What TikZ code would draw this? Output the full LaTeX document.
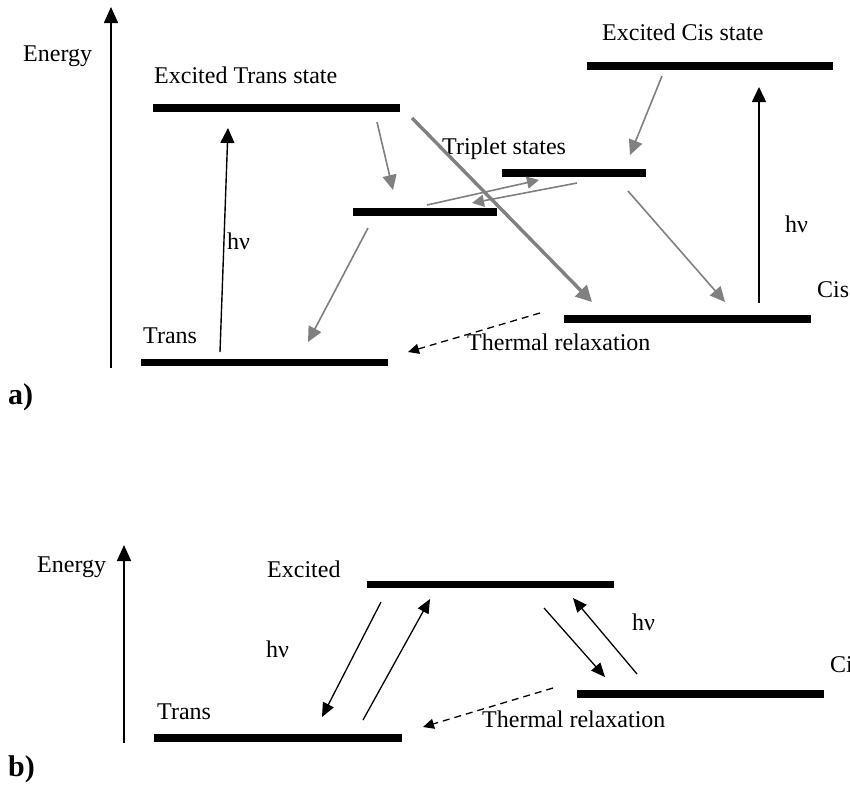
\documentclass[tikz,border=0pt]{standalone}
\usepackage{fontspec}
\newfontfamily\tnr{Liberation Serif}
\usetikzlibrary{arrows.meta}
\definecolor{arrgray}{HTML}{808080}
\tikzset{
  bar/.style={fill=black, draw=none, minimum height=7.5pt, inner sep=0pt, anchor=center},
  lbl/.style={anchor=base west, inner sep=0pt, font=\tnr\fontsize{24}{28}\selectfont},
  plbl/.style={anchor=base west, inner sep=0pt, font=\tnr\bfseries\fontsize{30}{34}\selectfont},
  axisarr/.style={line width=1.6pt, -{Triangle[length=16pt,width=14pt]}},
  blackarr/.style={line width=1.4pt, -{Triangle[length=15pt,width=14pt]}},
  blackarrb/.style={line width=1.3pt, -{Triangle[length=14pt,width=12pt]}},
  grayarr/.style={draw=arrgray, line width=1.6pt, -{Triangle[length=15pt,width=14pt]}},
  grayarrs/.style={draw=arrgray, line width=1.6pt, -{Triangle[length=12pt,width=12pt]}},
  graythick/.style={draw=arrgray, line width=3.4pt, -{Triangle[length=16pt,width=16pt]}},
  dasharr/.style={line width=1.3pt, dash pattern=on 7pt off 5pt, -{Triangle[length=11pt,width=10pt]}},
}
\begin{document}
\begin{tikzpicture}[x=1pt,y=-1pt]
\useasboundingbox (0,0) rectangle (850,787);
\fill[white] (0,0) rectangle (850,787);

% ---------------- a) ----------------
\node[bar, minimum width=247pt] (ETbar) at (276.5,108) {};
\node[bar, minimum width=247pt] (Tbar) at (264.5,362.5) {};
\node[bar, minimum width=144pt] (TLbar) at (425,212) {};
\node[bar, minimum width=144pt] (TUbar) at (574,173) {};
\node[bar, minimum width=246pt] (ECbar) at (710,66) {};
\node[bar, minimum width=247pt] (Cbar) at (687.5,319) {};

\node[lbl] (energyA) at (23,61) {Energy};
\node[lbl] (etlbl) at (154,83) {Excited Trans state};
\node[lbl] (hvA1) at (227,249) {hν};
\node[lbl] (transA) at (143,343) {Trans};
\node[lbl] (triplbl) at (442,154) {Triplet states};
\node[lbl] (eclbl) at (602,40) {Excited Cis state};
\node[lbl] (hvA2) at (785,232) {hν};
\node[lbl] (cisA) at (817,297) {Cis};
\node[lbl] (thermA) at (467,350) {Thermal relaxation};
\node[plbl] (labA) at (8,404) {a)};

\coordinate (axA0) at (111,368);
\coordinate (axA1) at (111,7);
\coordinate (hv1s) at (220,352);
\coordinate (hv1e) at (228,128);
\coordinate (g1s) at (377,122);
\coordinate (g1e) at (393,190);
\coordinate (g2s) at (368,228);
\coordinate (g2e) at (308,342);
\coordinate (gts) at (412,118);
\coordinate (gte) at (592,302);
\coordinate (t1s) at (427,205);
\coordinate (t1e) at (539,180);
\coordinate (t2s) at (577,183);
\coordinate (t2e) at (472,203);
\coordinate (g3s) at (662,76);
\coordinate (g3e) at (630,155);
\coordinate (g4s) at (628,191);
\coordinate (g4e) at (725,302);
\coordinate (hv2s) at (759,303);
\coordinate (hv2e) at (759,87);
\coordinate (dAs) at (540,313);
\coordinate (dAe) at (408,352);

\draw[axisarr] (axA0) -- (axA1);
\draw[blackarr] (hv1s) -- (hv1e);
\draw[grayarr] (g1s) -- (g1e);
\draw[grayarr] (g2s) -- (g2e);
\draw[grayarrs] (t1s) -- (t1e);
\draw[grayarrs] (t2s) -- (t2e);
\draw[graythick] (gts) -- (gte);
\draw[grayarr] (g3s) -- (g3e);
\draw[grayarr] (g4s) -- (g4e);
\draw[blackarr] (hv2s) -- (hv2e);
\draw[dasharr] (dAs) -- (dAe);

% ---------------- b) ----------------
\node[bar, minimum width=247pt] (EXbar) at (490.5,584.5) {};
\node[bar, minimum width=248pt] (TBbar) at (278,738) {};
\node[bar, minimum width=247pt] (CBbar) at (700.5,694) {};

\node[lbl] (energyB) at (37,572) {Energy};
\node[lbl] (exlbl) at (267,577) {Excited};
\node[lbl] (hvB1) at (266,657) {hν};
\node[lbl] (hvB2) at (632,630) {hν};
\node[lbl] (transB) at (157,719) {Trans};
\node[lbl] (thermB) at (482,727) {Thermal relaxation};
\begin{scope}
\clip (0,0) rectangle (850,787);
\node[lbl] (cisB) at (830,672) {Cis};
\end{scope}
\node[plbl] (labB) at (8,776) {b)};

\coordinate (axB0) at (124,743);
\coordinate (axB1) at (124,545);
\coordinate (b1s) at (381,602);
\coordinate (b1e) at (322,717);
\coordinate (b2s) at (363,720);
\coordinate (b2e) at (430,599);
\coordinate (b3s) at (544,608);
\coordinate (b3e) at (605,677);
\coordinate (b4s) at (637,674);
\coordinate (b4e) at (573,598);
\coordinate (dBs) at (553,688);
\coordinate (dBe) at (423,727);

\draw[axisarr] (axB0) -- (axB1);
\draw[blackarrb] (b1s) -- (b1e);
\draw[blackarrb] (b2s) -- (b2e);
\draw[blackarrb] (b3s) -- (b3e);
\draw[blackarrb] (b4s) -- (b4e);
\draw[dasharr] (dBs) -- (dBe);
\end{tikzpicture}
\end{document}
